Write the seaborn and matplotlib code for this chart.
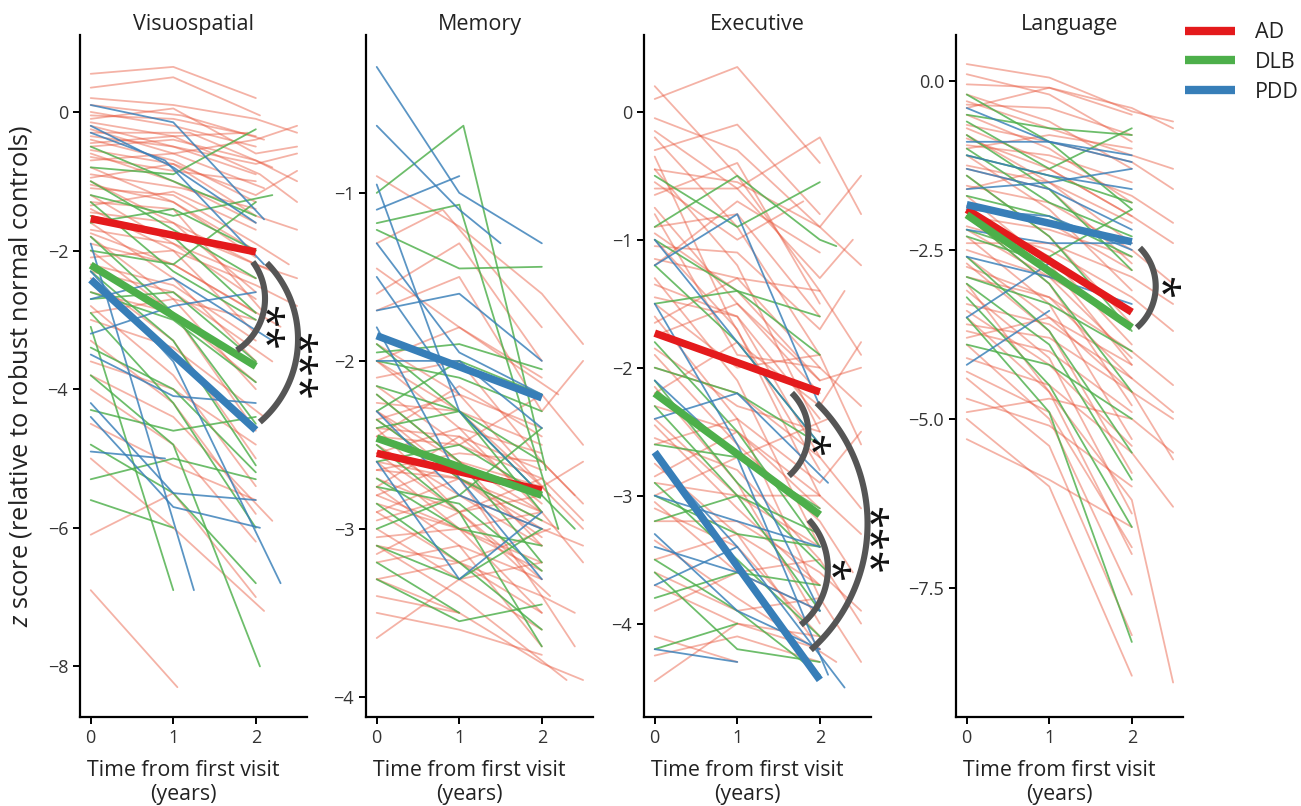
import matplotlib.pyplot as plt
import numpy as np
import pandas as pd
import seaborn as sns
from matplotlib.lines import Line2D

# ---------------------------------------------------------------- data
domains = ['Visuospatial', 'Memory', 'Executive', 'Language']
groups = ['AD', 'DLB', 'PDD']

# group mean slopes: value at first visit (t=0) and at t=2 years, one entry per domain
mean_t = [0, 2]
mean_start_ad = [-1.54, -2.55, -1.73, -1.90]
mean_end_ad = [-2.02, -2.77, -2.19, -3.42]
mean_start_dlb = [-2.21, -2.46, -2.20, -1.98]
mean_end_dlb = [-3.67, -2.80, -3.15, -3.65]
mean_start_pdd = [-2.42, -1.85, -2.66, -1.83]
mean_end_pdd = [-4.59, -2.22, -4.44, -2.38]

# individual trajectories, (years, z) per visit
vis_ad = [
    ((0, .55), (1, .65), (2, .2)), ((0, .35), (1, .5), (2.05, -.05)),
    ((0, .2), (1, .1), (2, -.1), (2.5, -.3)), ((0, .1), (1.1, -.05), (2.1, -.4)),
    ((0, 0), (1, -.2), (2, -.5)), ((0, -.1), (1, .05), (2, -.6), (2.5, -.5)),
    ((0, -.2), (1, -.5), (2, -.9)), ((0, -.3), (1.2, -.3), (2.2, -.8)),
    ((0, -.4), (1, -.7), (2, -1.3)), ((0, -.5), (1, -.4), (2, -.7), (2.5, -1.0)),
    ((0, -.6), (1, -1.0), (2, -1.6)), ((0, -.7), (1, -.6), (2.1, -1.1)),
    ((0, -.8), (1, -1.3), (2, -2.1)), ((0, -.9), (1.1, -1.1), (2, -1.4)),
    ((0, -1.0), (1, -1.6), (2, -2.6)), ((0, -1.1), (1, -1.2), (2, -1.9), (2.4, -2.2)),
    ((0, -1.2), (1, -1.9), (2, -2.4)), ((0, -1.3), (1, -1.4), (2.1, -2.9)),
    ((0, -1.4), (1, -2.0), (2, -3.2)), ((0, -1.5), (1.2, -1.8), (2.2, -2.3)),
    ((0, -1.6), (1, -2.4), (2, -3.6)), ((0, -1.7), (1, -1.9), (2, -2.7)),
    ((0, -1.8), (1, -2.7), (2, -4.0)), ((0, -1.9), (1, -2.2), (2.3, -3.1)),
    ((0, -2.0), (1, -2.9), (2, -4.6)), ((0, -2.2), (1, -2.5), (2, -3.3)),
    ((0, -2.4), (1, -3.3), (2, -5.0)), ((0, -2.6), (1, -2.9), (2, -3.9)),
    ((0, -2.8), (1, -3.8), (2, -5.4)), ((0, -3.0), (1, -3.4), (2.1, -4.4)),
    ((0, -3.3), (1, -4.2), (2, -5.8)), ((0, -3.6), (1, -4.0), (2, -4.8)),
    ((0, -4.0), (1, -4.8), (2, -6.2)), ((0, -4.5), (1, -5.1), (2, -5.6)),
    ((0, -6.1), (1, -5.5), (2, -7.0)), ((0, -6.9), (1.05, -8.3)),
    ((0, -.25), (1, -.6), (2, -.4), (2.5, -.2)), ((0, -.45), (1, -.35), (2.05, -.9), (2.5, -1.3)),
    ((0, -.15), (1, -.35), (1.9, -.3)), ((0, -.95), (1, -.75), (2, -1.2), (2.5, -.85)),
    ((0, -1.35), (1, -1.15), (2, -1.7)), ((0, -2.1), (1, -2.0), (2, -2.5), (2.5, -2.8)),
    ((0, -2.9), (1, -2.7), (2, -3.0)), ((0, -3.8), (1, -4.4), (2.2, -5.9)),
    ((0, -5.0), (1, -6.0), (2.1, -7.2)), ((0, -.35), (1, -.5), (2, -.75), (2.5, -.6)),
    ((0, -.65), (1, -.85), (2, -1.0)), ((0, -1.05), (1, -1.3), (2, -2.0)),
    ((0, -1.45), (1, -1.6), (2, -2.2), (2.5, -2.4)), ((0, -1.75), (1, -2.2), (2, -2.9)),
    ((0, -2.3), (1, -2.6), (2.2, -3.6)), ((0, -.05), (1, -.1), (2, -.35)),
    ((0, -.55), (1, -.75), (2, -1.5), (2.5, -1.7)),
]
vis_dlb = [
    ((0, -.5), (1, -1.0), (2, -1.5)), ((0, -.8), (1, -.9), (2, -.25)),
    ((0, -1.0), (1, -1.7), (2, -2.4)), ((0, -1.2), (1, -1.5), (2.2, -1.2)),
    ((0, -1.3), (1, -2.3), (2, -3.0)), ((0, -1.5), (1, -1.8), (2, -2.9)),
    ((0, -1.8), (1, -2.9), (2, -4.5)), ((0, -2.0), (1, -2.2), (2, -1.3)),
    ((0, -2.3), (1, -3.3), (2, -5.1)), ((0, -2.6), (1, -3.0), (2, -3.9)),
    ((0, -2.9), (1, -4.2), (2, -6.0)), ((0, -3.1), (1.0, -6.9)),
    ((0, -3.4), (1, -4.0), (2, -5.2)), ((0, -3.8), (1, -4.8), (2.05, -8.0)),
    ((0, -4.3), (1, -4.6), (2, -4.4)), ((0, -5.3), (1, -5.0), (2, -5.3)),
    ((0, -5.6), (1, -6.0)), ((0, -1.6), (1, -1.4), (2, -2.0)),
    ((0, -2.7), (1, -2.6), (2, -3.6)), ((0, -4.8), (1, -5.5), (2, -6.8)),
]
vis_pdd = [
    ((0, .1), (1, -.15), (2.1, -1.55)), ((0, -.2), (1, -.8), (2, -1.6)),
    ((0, -.3), (.9, -.7), (2.1, -2.2)), ((0, -1.9), (1.25, -6.9)),
    ((0, -2.3), (1, -3.6), (2.3, -6.8)), ((0, -3.2), (1, -2.8), (2, -2.6)),
    ((0, -4.2), (1, -5.5), (2, -5.6)), ((0, -4.9), (.9, -5.0)),
    ((0, -3.5), (1, -4.1), (2, -4.2)), ((0, -2.7), (1, -2.4), (2.2, -3.3)),
    ((0, -4.4), (1, -5.7), (2.05, -6.0)),
]

mem_ad = [
    ((0, -.9), (1, -1.2), (2, -1.6), (2.5, -1.9)), ((0, -1.3), (.8, -1.1), (2, -1.8)),
    ((0, -1.45), (1, -1.8), (2.2, -2.2)), ((0, -1.7), (1, -1.5), (2, -2.3), (2.5, -2.0)),
    ((0, -1.9), (1, -2.2), (2, -2.4)), ((0, -2.0), (1, -2.4), (2, -2.9)),
    ((0, -2.1), (1, -2.0), (2, -2.6), (2.4, -2.8)), ((0, -2.2), (1, -2.6), (2, -3.1)),
    ((0, -2.25), (1, -2.3), (2, -2.5)), ((0, -2.3), (1, -2.7), (2, -2.9)),
    ((0, -2.35), (1, -2.2), (2.1, -2.8)), ((0, -2.4), (1, -2.9), (2, -3.3)),
    ((0, -2.45), (1, -2.5), (2, -2.7), (2.5, -2.95)), ((0, -2.5), (1, -2.8), (2, -3.0)),
    ((0, -2.55), (1, -2.4), (2, -2.55)), ((0, -2.6), (1, -3.0), (2, -3.5)),
    ((0, -2.65), (1, -2.7), (2.2, -3.0)), ((0, -2.7), (1, -2.9), (2, -2.8)),
    ((0, -2.75), (1, -3.1), (2, -3.7)), ((0, -2.8), (1, -2.6), (2, -2.9), (2.5, -3.2)),
    ((0, -2.85), (1, -3.0), (2, -3.2)), ((0, -2.9), (1, -3.2), (2.1, -3.0)),
    ((0, -2.95), (1, -2.8), (2, -3.1)), ((0, -3.0), (1, -3.3), (2, -3.6)),
    ((0, -3.05), (1, -3.0), (2, -2.9)), ((0, -3.1), (1, -3.4), (2.3, -3.9)),
    ((0, -3.2), (1, -3.1), (2, -3.3)), ((0, -3.3), (1, -3.5)),
    ((0, -3.65), (1, -3.3), (2, -3.2)), ((0, -2.15), (1, -2.5), (2, -2.2), (2.5, -2.5)),
    ((0, -2.35), (1, -2.7), (2, -3.4), (2.4, -3.5)), ((0, -2.55), (1, -2.9), (2, -2.7)),
    ((0, -2.75), (1, -2.45), (2, -2.65)), ((0, -2.0), (1, -1.8), (2, -2.1)),
    ((0, -1.6), (1, -1.3), (2, -2.0)), ((0, -3.4), (1, -3.5), (2, -3.8), (2.5, -3.9)),
    ((0, -2.45), (1, -2.15), (2, -2.45)), ((0, -3.15), (1, -2.9), (2.1, -3.4)),
    ((0, -2.3), (1, -2.6), (2, -2.75), (2.5, -3.0)), ((0, -2.6), (1, -2.7), (2, -3.05)),
    ((0, -2.0), (1, -2.3), (2, -2.75), (2.5, -2.6)), ((0, -3.1), (1, -3.2), (2, -3.4), (2.4, -3.7)),
    ((0, -2.8), (1, -3.0), (2, -3.25)), ((0, -2.4), (1, -2.45), (2, -2.85)),
    ((0, -3.3), (1, -3.2), (2, -3.5)), ((0, -2.65), (1, -2.55), (2, -2.6), (2.5, -2.85)),
    ((0, -3.5), (1, -3.6), (2, -3.75)), ((0, -2.9), (1, -2.7), (2, -3.0), (2.5, -3.1)),
]
mem_dlb = [
    ((0, -1.0), (1.05, -.6), (2.05, -2.65)), ((0, -1.18), (1, -1.07), (2.2, -3.0)),
    ((0, -1.22), (1, -1.45), (2, -1.44)), ((0, -1.9), (1, -2.3), (2, -2.9)),
    ((0, -2.0), (1, -2.1), (2, -2.3)), ((0, -2.2), (1, -2.6), (2, -3.2)),
    ((0, -2.4), (1, -2.3), (2, -2.6)), ((0, -2.5), (1, -2.9), (2, -3.7)),
    ((0, -2.6), (1, -2.5), (2, -2.8)), ((0, -2.7), (1, -3.0), (2, -3.1)),
    ((0, -2.85), (1, -3.2), (2, -3.6)), ((0, -3.0), (1, -2.8), (2, -2.4)),
    ((0, -3.2), (1, -3.5)), ((0, -2.3), (1, -2.0), (2, -2.2)),
    ((0, -1.95), (1, -1.9), (2, -2.05)), ((0, -3.1), (1, -3.3), (2, -3.0)),
    ((0, -2.35), (1, -2.7), (2, -2.95)), ((0, -2.75), (1, -2.85), (2, -3.25)),
    ((0, -3.3), (1, -3.55), (2, -3.45)), ((0, -2.15), (1, -2.3), (2.4, -3.0)),
]
mem_pdd = [
    ((0, -.25), (1, -1.0), (2, -1.3)), ((0, -.6), (1, -1.1), (1.5, -1.3)),
    ((0, -1.1), (1, -.9)), ((0, -.95), (1, -2.3), (2, -2.8)),
    ((0, -1.5), (1, -2.2)), ((0, -1.7), (1, -1.6), (2, -2.0)),
    ((0, -1.8), (1, -2.7), (2, -3.3)), ((0, -2.0), (1, -2.0), (2, -2.4)),
    ((0, -2.3), (1, -2.8), (2, -3.0)), ((0, -2.6), (1, -3.3), (2, -2.9)),
    ((0, -1.3), (1, -1.95), (2, -2.2)),
]

exe_ad = [
    ((0, .2), (1, -.5), (2, -1.4)), ((0, .1), (1, .35), (2, -.4)),
    ((0, -.05), (1, -.3), (2, -.9), (2.5, -.5)), ((0, -.2), (1, -.9), (2, -1.9)),
    ((0, -.3), (1, -.1), (2, -.8)), ((0, -.45), (1, -1.2), (2, -2.5)),
    ((0, -.6), (1, -.6), (2, -1.3), (2.4, -1.0)), ((0, -.75), (1, -1.5), (2, -2.2)),
    ((0, -.9), (1, -.8), (2, -1.6)), ((0, -1.0), (1, -1.7), (2, -3.0)),
    ((0, -1.15), (1, -1.3), (2, -2.0), (2.5, -2.3)), ((0, -1.3), (1, -2.1), (2, -3.4)),
    ((0, -1.45), (1, -1.6), (2, -2.4)), ((0, -1.6), (1, -2.4), (2, -3.8)),
    ((0, -1.75), (1, -1.5), (2, -2.1)), ((0, -1.9), (1, -2.6), (2, -3.2), (2.4, -3.6)),
    ((0, -2.0), (1, -2.2), (2, -2.7)), ((0, -2.15), (1, -2.9), (2, -4.0)),
    ((0, -2.3), (1, -2.5), (2, -3.0)), ((0, -2.45), (1, -3.1), (2, -3.7)),
    ((0, -2.6), (1, -2.4), (2, -2.9), (2.5, -2.5)), ((0, -2.75), (1, -3.3), (2, -4.2)),
    ((0, -2.9), (1, -3.0), (2, -3.4)), ((0, -3.05), (1, -3.6), (2, -3.9)),
    ((0, -3.2), (1, -3.2), (2, -3.6), (2.5, -3.9)), ((0, -3.35), (1, -3.8), (2.2, -4.3)),
    ((0, -3.5), (1, -3.3), (2, -3.7)), ((0, -3.7), (1, -4.0), (2, -4.1)),
    ((0, -3.9), (1, -3.6), (2, -3.5)), ((0, -4.1), (1, -4.3)),
    ((0, -4.45), (1, -4.0), (2, -4.2)), ((0, -.15), (1, -.6), (2, -.2), (2.5, -.8)),
    ((0, -.55), (1, -1.0), (1.8, -.7)), ((0, -1.2), (1, -.7), (2, -1.1)),
    ((0, -2.2), (1, -1.8), (2, -2.3), (2.5, -1.8)), ((0, -1.5), (1, -2.0), (2, -1.9), (2.5, -2.6)),
    ((0, -2.85), (1, -2.5), (2, -3.1)), ((0, -.35), (.9, -1.6), (2, -2.8)),
    ((0, -1.05), (1, -1.1), (2, -1.7), (2.3, -1.4)), ((0, -3.0), (1, -2.7), (2.1, -2.4)),
    ((0, -2.4), (1, -3.0), (2, -3.0), (2.5, -3.3)), ((0, -.8), (1, -1.9), (2, -2.0)),
    ((0, -.45), (1, -.55), (2, -.9), (2.5, -1.2)), ((0, -.65), (1, -.4), (2, -1.5)),
    ((0, -1.35), (1, -1.6), (2, -2.7), (2.5, -3.1)), ((0, -1.85), (1, -2.3), (2, -2.5)),
    ((0, -2.55), (1, -2.8), (2, -3.5), (2.5, -4.0)), ((0, -3.1), (1, -3.4), (2, -4.1)),
    ((0, -3.6), (1, -3.9), (2, -3.8), (2.5, -4.3)), ((0, -.95), (1, -1.4), (2, -2.1), (2.5, -2.0)),
    ((0, -1.65), (1, -1.3), (2, -1.4), (2.5, -1.9)), ((0, -4.25), (1, -4.1), (2, -4.3)),
]
exe_dlb = [
    ((0, -.5), (1, -.9), (2, -.55)), ((0, -.9), (1, -.5), (2, -1.0), (2.2, -1.05)),
    ((0, -1.2), (1, -1.8), (2, -2.6)), ((0, -1.5), (1, -1.4), (2, -1.9)),
    ((0, -1.8), (1, -2.5), (2, -3.4)), ((0, -2.0), (1, -2.2), (2, -2.6)),
    ((0, -2.3), (1, -3.0), (2, -3.9)), ((0, -2.6), (1, -2.7), (2, -3.1)),
    ((0, -2.9), (1, -3.5), (2, -4.1)), ((0, -3.2), (1, -3.0), (2, -3.3)),
    ((0, -3.5), (1, -3.9), (2, -4.4)), ((0, -3.8), (1, -3.6), (2, -3.7)),
    ((0, -4.2), (1, -4.0)), ((0, -2.1), (1, -2.9), (2.1, -3.6)),
    ((0, -3.0), (1, -3.3), (2, -3.4)), ((0, -3.6), (1, -4.2), (2, -4.3)),
    ((0, -1.0), (1, -1.4), (2, -1.6)),
]
exe_pdd = [
    ((0, -1.0), (1, -1.8), (2, -2.6)), ((0, -1.5), (1, -2.6), (2, -3.9)),
    ((0, -2.1), (1, -2.7), (2.1, -4.4)), ((0, -2.7), (1, -3.4), (2.3, -4.5)),
    ((0, -3.0), (1, -3.2), (2, -3.4)), ((0, -3.4), (1, -3.6), (2, -3.9)),
    ((0, -3.7), (1, -3.4)), ((0, -4.2), (1, -4.3)),
    ((0, -2.4), (1, -2.2), (2.1, -2.9)), ((0, -3.3), (1, -3.9), (2, -4.2)),
    ((0, -1.2), (1, -.8), (2, -2.3)),
]

lang_ad = [
    ((0, .25), (1, .05), (2, -.45), (2.5, -.6)), ((0, .1), (1, -.2), (2, -.9)),
    ((0, -.05), (1, -.1), (2, -.4), (2.5, -.7)), ((0, -.2), (1, -.6), (2, -1.3)),
    ((0, -.35), (1, -.4), (2, -.8)), ((0, -.5), (1, -1.0), (2, -1.8)),
    ((0, -.65), (1, -.9), (2, -1.2), (2.5, -1.6)), ((0, -.8), (1, -1.5), (2, -2.4)),
    ((0, -.95), (1, -1.1), (2, -1.5)), ((0, -1.1), (1, -1.9), (2, -3.1)),
    ((0, -1.25), (1, -1.5), (2, -2.1)), ((0, -1.4), (1, -2.3), (2, -3.6)),
    ((0, -1.55), (1, -1.8), (2, -2.5), (2.5, -3.0)), ((0, -1.7), (1, -2.7), (2, -4.2)),
    ((0, -1.85), (1, -2.1), (2, -2.8)), ((0, -2.0), (1, -3.0), (2, -4.8)),
    ((0, -2.15), (1, -2.5), (2, -3.2), (2.5, -3.7)), ((0, -2.3), (1, -3.3), (2, -5.3)),
    ((0, -2.5), (1, -2.9), (2, -3.6)), ((0, -2.7), (1, -3.7), (2, -5.8)),
    ((0, -2.9), (1, -3.2), (2, -4.0), (2.5, -4.5)), ((0, -3.1), (1, -4.1), (2, -6.4)),
    ((0, -3.3), (1, -3.6), (2, -4.4)), ((0, -3.5), (1, -4.6), (2, -7.0)),
    ((0, -3.7), (1, -4.0), (2, -4.9)), ((0, -3.9), (1, -5.0), (2, -7.6)),
    ((0, -4.1), (1, -4.5), (2, -5.5), (2.5, -6.3)), ((0, -4.4), (1, -5.4), (2, -8.2)),
    ((0, -4.7), (1, -5.1), (2, -6.0)), ((0, -5.0), (1, -6.0), (2, -8.8)),
    ((0, -5.3), (1, -5.9), (2, -6.6)), ((0, -3.0), (1, -4.6), (2, -6.2), (2.5, -8.9)),
    ((0, -1.0), (1, -.8), (2, -1.0)), ((0, -.4), (1, -.1), (2, -.5)),
    ((0, -2.4), (1, -2.4), (2, -2.9), (2.5, -3.3)), ((0, -3.8), (1, -3.5), (2, -4.2)),
    ((0, -1.6), (1, -1.3), (2, -2.0), (2.5, -2.4)), ((0, -4.9), (1, -4.7), (2, -5.0), (2.5, -5.5)),
    ((0, -2.6), (1, -3.5), (2, -4.6), (2.5, -5.6)), ((0, -.7), (1, -1.2), (2, -1.7), (2.5, -2.1)),
    ((0, -.3), (1, -.7), (2, -1.1), (2.5, -1.3)), ((0, -1.3), (1, -1.6), (2, -2.7)),
    ((0, -2.0), (1, -2.2), (2, -2.6)), ((0, -2.75), (1, -3.2), (2, -4.4), (2.5, -4.9)),
    ((0, -3.4), (1, -4.2), (2, -5.4)), ((0, -4.3), (1, -4.9), (2, -6.9)),
    ((0, -1.9), (1, -2.6), (2, -3.9)), ((0, -.85), (1, -1.3), (2, -2.0)),
    ((0, -3.6), (1, -3.8), (2, -4.6), (2.5, -5.0)), ((0, -2.2), (1, -2.9), (2, -4.1)),
]
lang_dlb = [
    ((0, -.2), (1, -.9), (2, -1.9)), ((0, -.5), (1, -.7), (2, -.8)),
    ((0, -.8), (1, -1.6), (2, -2.8)), ((0, -1.1), (1, -1.4), (2, -1.8)),
    ((0, -1.4), (1, -2.3), (2, -3.7)), ((0, -1.7), (1, -2.0), (2, -2.6)),
    ((0, -2.0), (1, -3.0), (2, -4.6)), ((0, -2.3), (1, -2.7), (2, -3.4)),
    ((0, -2.6), (1, -3.7), (2, -5.5)), ((0, -2.9), (1, -3.3), (2, -4.0)),
    ((0, -3.2), (1, -4.5), (2, -6.6)), ((0, -3.5), (1, -4.9), (2, -8.3)),
    ((0, -3.9), (1, -4.2), (2, -5.0)), ((0, -1.0), (1, -1.8), (2, -2.3)),
    ((0, -.6), (1, -1.3), (2, -.7)), ((0, -2.2), (1, -2.6), (2, -1.9)),
    ((0, -3.0), (1, -3.9), (2, -5.9)),
]
lang_pdd = [
    ((0, -.9), (1, -.9), (2, -1.1)), ((0, -1.1), (1, -1.4), (2, -1.6)),
    ((0, -1.3), (1, -1.6), (2, -2.2)), ((0, -1.6), (1, -1.5), (2, -1.3)),
    ((0, -1.9), (1, -2.0), (2, -2.5)), ((0, -2.2), (1, -2.4), (2, -2.4)),
    ((0, -3.5), (1, -2.7)), ((0, -4.2), (1, -3.4)),
    ((0, -.4), (1, -.9), (2, -1.2)), ((0, -2.6), (1, -2.9), (2, -3.3)),
]

# significance brackets: domain, upper group, lower group, stars
bracket_domain = ['Visuospatial', 'Visuospatial', 'Executive', 'Executive', 'Executive', 'Language']
bracket_upper = ['AD', 'AD', 'AD', 'DLB', 'AD', 'PDD']
bracket_lower = ['DLB', 'PDD', 'DLB', 'PDD', 'PDD', 'DLB']
bracket_stars = ['**', '***', '*', '*', '***', '*']

# ---------------------------------------------------------------- frames
traj = {
    'Visuospatial': {'AD': vis_ad, 'DLB': vis_dlb, 'PDD': vis_pdd},
    'Memory': {'AD': mem_ad, 'DLB': mem_dlb, 'PDD': mem_pdd},
    'Executive': {'AD': exe_ad, 'DLB': exe_dlb, 'PDD': exe_pdd},
    'Language': {'AD': lang_ad, 'DLB': lang_dlb, 'PDD': lang_pdd},
}
rows = []
for dom, per_group in traj.items():
    for grp, lines in per_group.items():
        for i, line in enumerate(lines):
            for t, z in line:
                rows.append((dom, grp, f'{grp}{i}', t, z))
indiv = pd.DataFrame(rows, columns=['domain', 'group', 'id', 'time', 'z'])

mean_rows = []
starts = {'AD': mean_start_ad, 'DLB': mean_start_dlb, 'PDD': mean_start_pdd}
ends = {'AD': mean_end_ad, 'DLB': mean_end_dlb, 'PDD': mean_end_pdd}
for k, dom in enumerate(domains):
    for grp in groups:
        mean_rows.append((dom, grp, mean_t[0], starts[grp][k]))
        mean_rows.append((dom, grp, mean_t[1], ends[grp][k]))
means = pd.DataFrame(mean_rows, columns=['domain', 'group', 'time', 'z'])

# ---------------------------------------------------------------- style
sns.set_theme(style='ticks')
plt.rcParams['font.family'] = ['Open Sans', 'DejaVu Sans']
plt.rcParams['mathtext.fontset'] = 'custom'
plt.rcParams['mathtext.it'] = 'Open Sans:italic'
plt.rcParams['mathtext.rm'] = 'Open Sans'

mean_colors = {'AD': '#e41a1c', 'DLB': '#4daf4a', 'PDD': '#377eb8'}
thin_colors = {'AD': '#e8553a', 'DLB': '#4daf4a', 'PDD': '#377eb8'}
thin_alpha = {'AD': 0.45, 'DLB': 0.82, 'PDD': 0.82}

W, H = 1301, 806
fig = plt.figure(figsize=(W / 100, H / 100), dpi=100)
lefts = [80, 366, 644, 956]
axes = [fig.add_axes([l / W, 1 - 717 / H, 227 / W, 682 / H]) for l in lefts]

ylims = [(-8.73, 1.11), (-4.12, -0.06), (-4.73, 0.60), (-9.41, 0.68)]
yticks = [[0, -2, -4, -6, -8], [-1, -2, -3, -4], [0, -1, -2, -3, -4], [0, -2.5, -5, -7.5]]

for k, (ax, dom) in enumerate(zip(axes, domains)):
    for grp in groups:
        sub = indiv[(indiv.domain == dom) & (indiv.group == grp)]
        sns.lineplot(data=sub, x='time', y='z', units='id', estimator=None, sort=False,
                     color=thin_colors[grp], alpha=thin_alpha[grp], lw=1.3,
                     legend=False, ax=ax)
    sns.lineplot(data=means[means.domain == dom], x='time', y='z', hue='group',
                 palette=mean_colors, lw=5.4, legend=False, ax=ax,
                 solid_capstyle='butt')
    ax.set_xlim(-0.13, 2.62)
    ax.set_ylim(*ylims[k])
    ax.autoscale(False)
    ax.set_xticks([0, 1, 2])
    ax.set_yticks(yticks[k])
    ax.set_title(dom, fontsize=15.5, pad=2, color='#222222')
    ax.set_xlabel('Time from first visit\n(years)', fontsize=15.4, color='#222222',
                  linespacing=1.18, va='top')
    ax.xaxis.set_label_coords(0.456, -0.063)
    ax.set_ylabel('')
    sns.despine(ax=ax)
    for s in ['left', 'bottom']:
        ax.spines[s].set_linewidth(1.6)
        ax.spines[s].set_color('black')
    ax.tick_params(length=5, width=1.4, color='black', labelsize=13, labelcolor='#333333')

axes[0].set_ylabel(r'$\it{z}$ score (relative to robust normal controls)', fontsize=18.3,
                   color='#222222')
axes[0].yaxis.set_label_coords(-0.203, 0.5)

# ---------------------------------------------------------------- brackets
# per-bracket geometry in pixels: offsets of the arc ends from the mean-line ends,
# and offset of the stars from the arc apex
bracket_geom = [
    ((-3, -10), (-19, 16), (-2, -18)),
    ((11, -11), (4, 8), (-3, -22)),
    ((-28, -1), (-31, 39), (0, -10)),
    ((-11, -5), (-19, 55), (0, 4)),
    ((-3, -11), (-9, 30), (-2, -13)),
    ((8, -6), (5, 0), (2, 1)),
]


def draw_bracket(ax, p_top, p_bot, stars, star_off, half=np.radians(47)):
    a, b = np.asarray(p_top, float), np.asarray(p_bot, float)
    chord = b - a
    L = np.hypot(*chord)
    n = np.array([-chord[1], chord[0]]) / L
    r = L / (2 * np.sin(half))
    c = (a + b) / 2 - n * r * np.cos(half)
    a1 = np.arctan2(*(a - c)[::-1])
    a2 = np.arctan2(*(b - c)[::-1])
    th = np.linspace(a2, a1, 80)
    pts = np.column_stack([c[0] + r * np.cos(th), c[1] + r * np.sin(th)])
    xy = ax.transData.inverted().transform(pts)
    ax.plot(xy[:, 0], xy[:, 1], color='#555555', lw=4.4, solid_capstyle='butt', clip_on=False)
    apex = c + n * r
    apex_d = ax.transData.inverted().transform(apex)
    ax.annotate(stars, xy=apex_d, xytext=(star_off[0] * 0.72, star_off[1] * 0.72),
                textcoords='offset points', rotation=-90, ha='center', va='center',
                fontsize=30, color='#111111', annotation_clip=False, linespacing=1.0)


for dom, up, lo, st, geom in zip(bracket_domain, bracket_upper, bracket_lower, bracket_stars, bracket_geom):
    k = domains.index(dom)
    ax = axes[k]
    top_end = ax.transData.transform((mean_t[1], ends[up][k]))
    bot_end = ax.transData.transform((mean_t[1], ends[lo][k]))
    p_top = top_end + np.array([geom[0][0], geom[0][1]])
    p_bot = bot_end + np.array([geom[1][0], geom[1][1]])
    draw_bracket(ax, p_top, p_bot, st, geom[2])

# ---------------------------------------------------------------- legend
handles = [Line2D([], [], color=mean_colors[g], lw=6, solid_capstyle='butt') for g in groups]
fig.legend(handles, groups, loc='upper left', bbox_to_anchor=(1166 / W, 1 - 3 / H),
           frameon=False, fontsize=15.5, handlelength=2.3, handletextpad=0.95,
           labelspacing=0.4, labelcolor='#222222')

fig.savefig('out.png', dpi=100)
